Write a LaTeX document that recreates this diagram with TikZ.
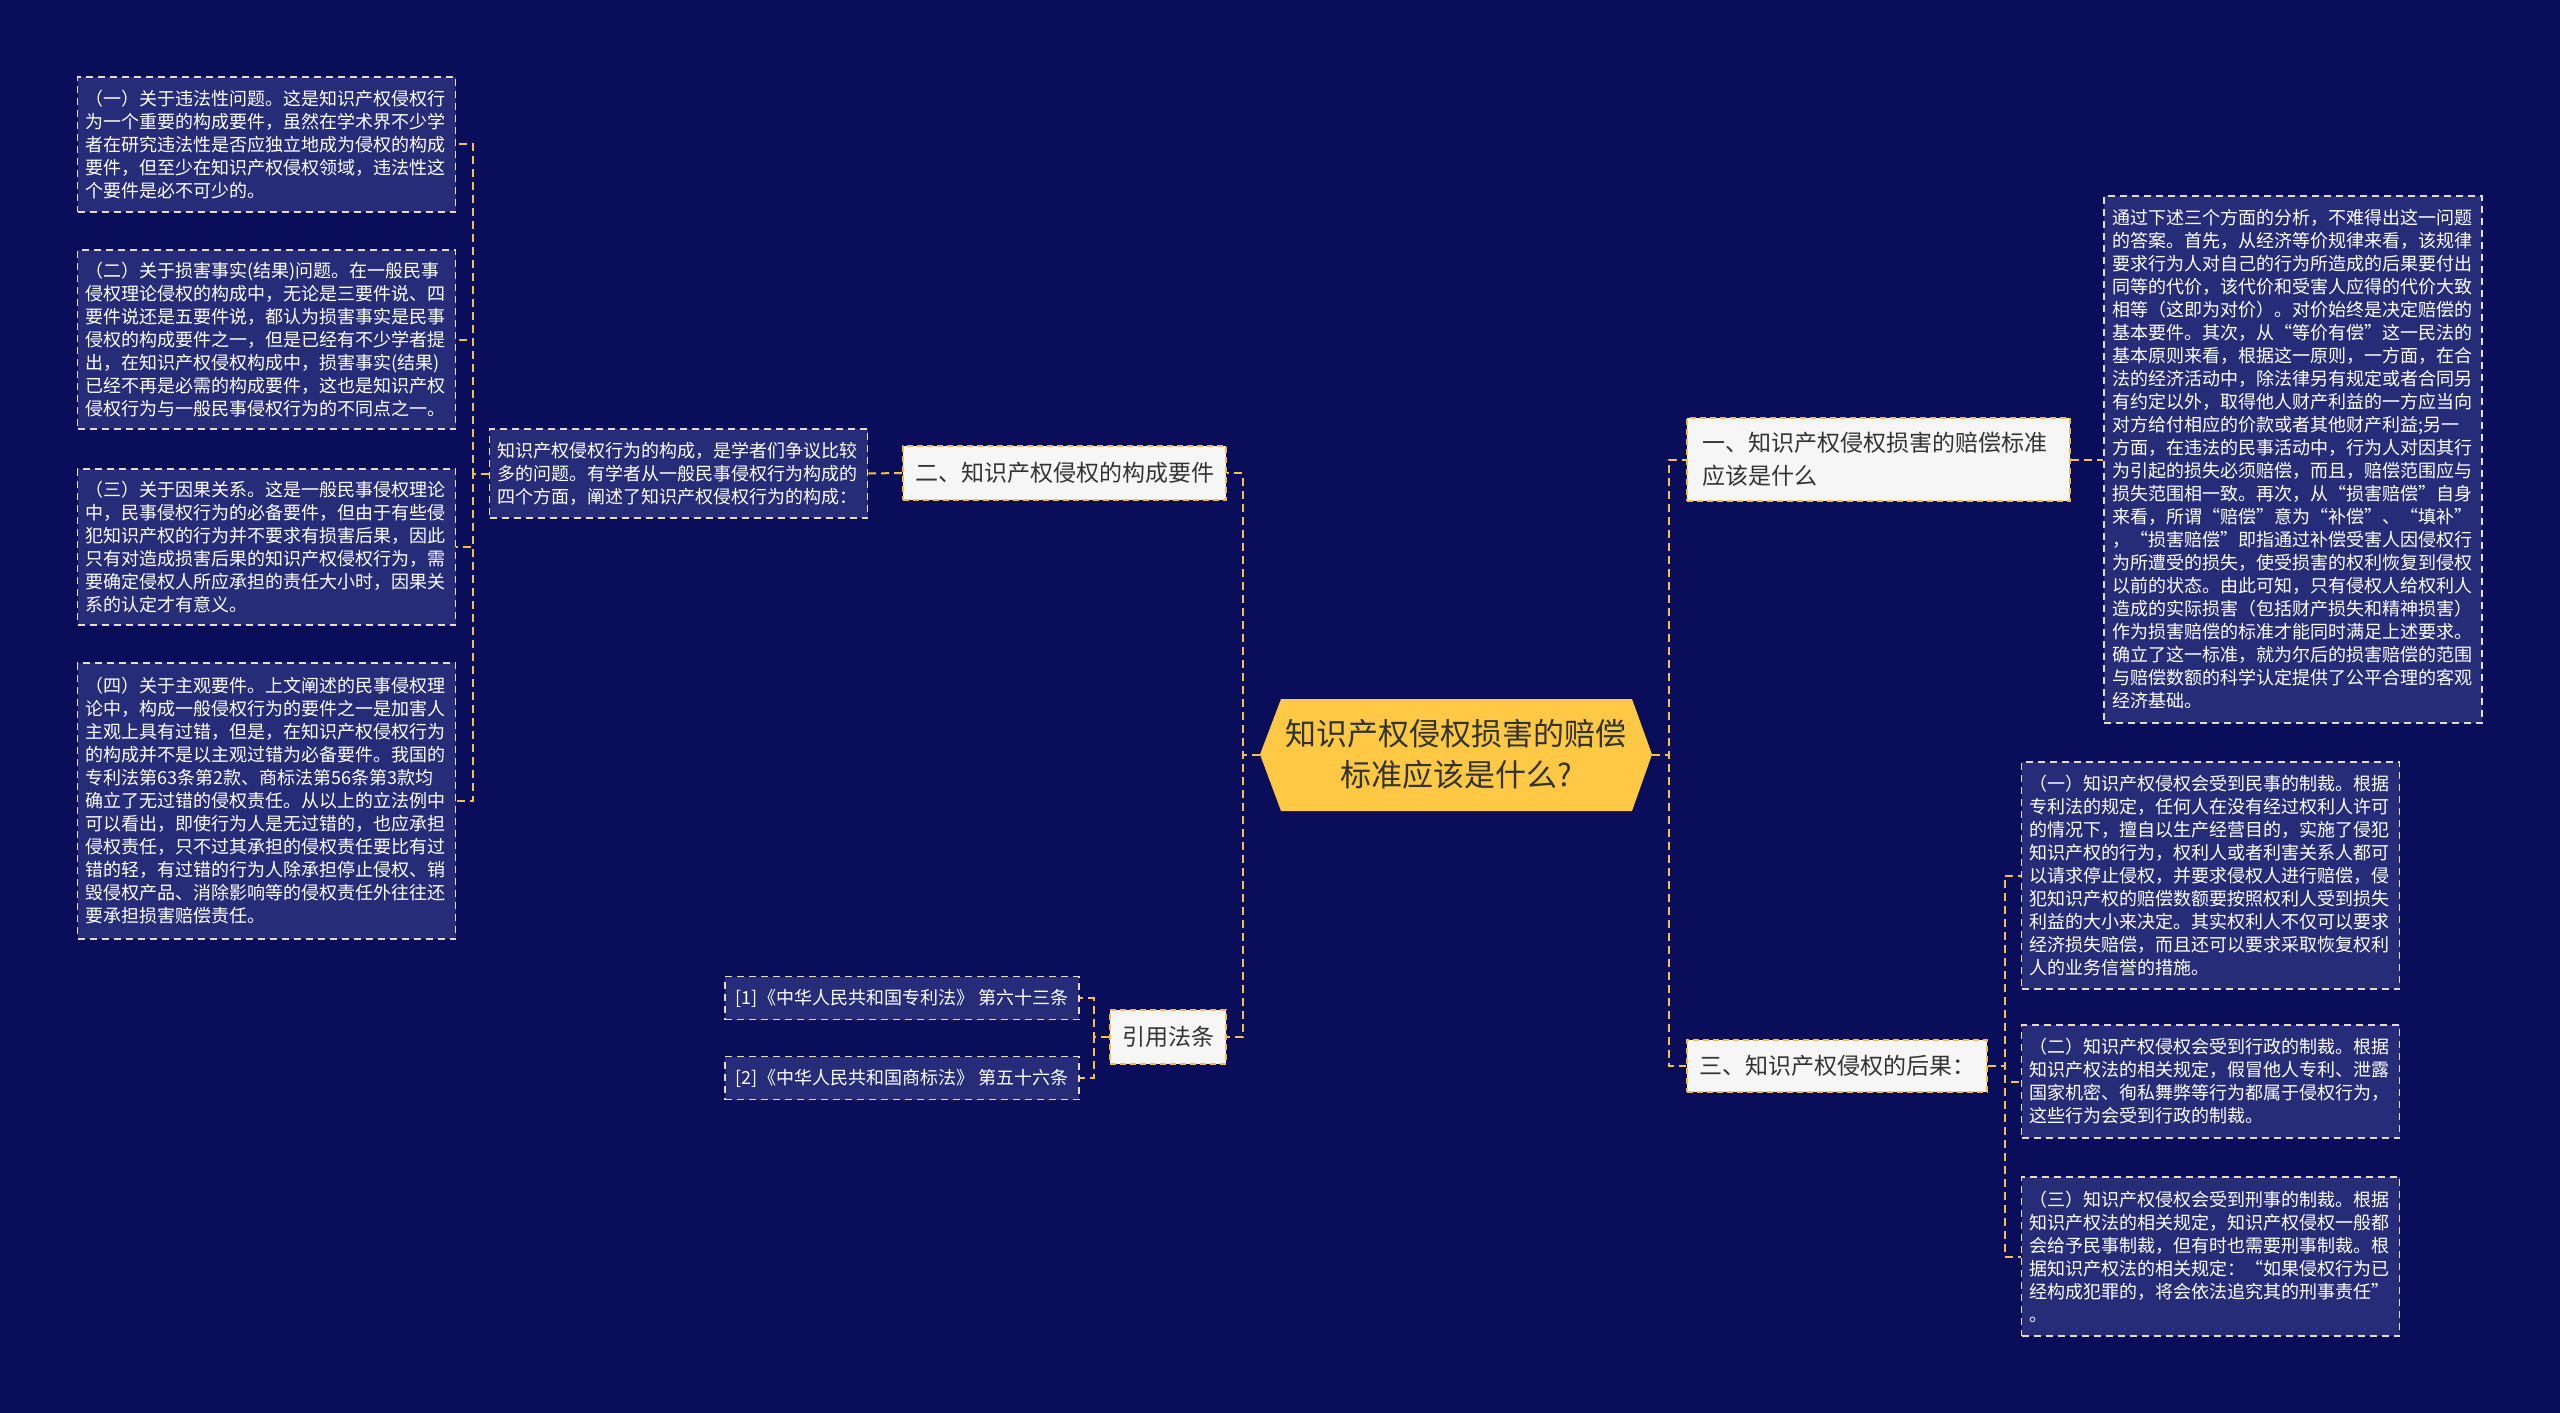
\documentclass[tikz,border=0pt]{standalone}
\usepackage{fontspec}
\setmainfont{Noto Sans CJK SC}
\setsansfont{Noto Sans CJK SC}
\definecolor{bgcol}{HTML}{0A0E5A}
\definecolor{leaffill}{HTML}{262C78}
\definecolor{leafline}{HTML}{E8DCC0}
\definecolor{branchfill}{HTML}{F6F6F6}
\definecolor{branchline}{HTML}{F2BC48}
\definecolor{conncol}{HTML}{F2C24E}
\definecolor{centerfill}{HTML}{FFC845}
\definecolor{textdark}{HTML}{333333}
\newcommand\myleaffont{\fontsize{9pt}{11.5pt}\selectfont}
\newcommand\mybranchfont{\fontsize{11.5pt}{16.5pt}\selectfont}
\newcommand\mycenterfont{\fontsize{15.5pt}{20.5pt}\selectfont}
\tikzset{
  leaf/.style={draw=leafline, line width=0.8pt, dash pattern=on 3.5pt off 2.5pt,
    fill=leaffill, text=white, font=\myleaffont, align=left,
    inner xsep=4pt, inner ysep=0pt, text width=181pt},
  cite/.style={draw=leafline, line width=0.8pt, dash pattern=on 3.5pt off 2.5pt,
    fill=leaffill, text=white, font=\myleaffont, inner sep=0pt},
  branch/.style={draw=branchline, line width=0.8pt, dash pattern=on 3pt off 2pt,
    fill=branchfill, text=textdark, font=\mybranchfont, inner sep=0pt},
  conn/.style={draw=conncol, line width=1pt, dash pattern=on 4pt off 2.5pt}
}
\begin{document}
\begin{tikzpicture}[x=0.5pt,y=-0.5pt]
\useasboundingbox (0,0) rectangle (2560,1413);
\fill[bgcol] (0,0) rectangle (2560,1413);

% centre
\fill[centerfill] (1260,754.5) -- (1281,699) -- (1632,699) -- (1652,754.5) -- (1632,811) -- (1281,811) -- cycle;
\node[minimum width=196pt, minimum height=56pt, inner sep=0pt, text=textdark, font=\mycenterfont, align=center] (C) at (1456,754.5) {知识产权侵权损害的赔偿\\标准应该是什么?};

% branches
\node[branch, minimum width=191.5pt, minimum height=41.5pt, text width=176pt, align=left] (B1) at (1878.5,459.5) {一、知识产权侵权损害的赔偿标准\\应该是什么};
\node[branch, minimum width=150pt, minimum height=26pt] (B3) at (1837,1066) {三、知识产权侵权的后果：};
\node[branch, minimum width=161.5pt, minimum height=27pt] (B2) at (1064.5,473) {二、知识产权侵权的构成要件};
\node[branch, minimum width=58pt, minimum height=27pt] (Y) at (1168,1037) {引用法条};

% left leaves
\node[leaf, minimum height=67.5pt] (L1) at (266.5,144.5) {（一）关于违法性问题。这是知识产权侵权行\\为一个重要的构成要件，虽然在学术界不少学\\者在研究违法性是否应独立地成为侵权的构成\\要件，但至少在知识产权侵权领域，违法性这\\个要件是必不可少的。};
\node[leaf, minimum height=89.5pt] (L2) at (266.5,339.5) {（二）关于损害事实(结果)问题。在一般民事\\侵权理论侵权的构成中，无论是三要件说、四\\要件说还是五要件说，都认为损害事实是民事\\侵权的构成要件之一，但是已经有不少学者提\\出，在知识产权侵权构成中，损害事实(结果)\\已经不再是必需的构成要件，这也是知识产权\\侵权行为与一般民事侵权行为的不同点之一。};
\node[leaf, minimum height=78pt] (L3) at (266.5,547) {（三）关于因果关系。这是一般民事侵权理论\\中，民事侵权行为的必备要件，但由于有些侵\\犯知识产权的行为并不要求有损害后果，因此\\只有对造成损害后果的知识产权侵权行为，需\\要确定侵权人所应承担的责任大小时，因果关\\系的认定才有意义。};
\node[leaf, minimum height=138pt] (L4) at (266.5,801) {（四）关于主观要件。上文阐述的民事侵权理\\论中，构成一般侵权行为的要件之一是加害人\\主观上具有过错，但是，在知识产权侵权行为\\的构成并不是以主观过错为必备要件。我国的\\专利法第63条第2款、商标法第56条第3款均\\确立了无过错的侵权责任。从以上的立法例中\\可以看出，即使行为人是无过错的，也应承担\\侵权责任，只不过其承担的侵权责任要比有过\\错的轻，有过错的行为人除承担停止侵权、销\\毁侵权产品、消除影响等的侵权责任外往往还\\要承担损害赔偿责任。};
\node[leaf, minimum height=44.5pt] (D) at (678.5,473.5) {知识产权侵权行为的构成，是学者们争议比较\\多的问题。有学者从一般民事侵权行为构成的\\四个方面，阐述了知识产权侵权行为的构成：};

% citations
\node[cite, minimum width=177pt, minimum height=21.5pt] (Q1) at (902,998) {[1]《中华人民共和国专利法》 第六十三条};
\node[cite, minimum width=177pt, minimum height=21.5pt] (Q2) at (902,1078) {[2]《中华人民共和国商标法》 第五十六条};

% right leaves
\node[leaf, minimum height=263.5pt] (R0) at (2293,459.5) {通过下述三个方面的分析，不难得出这一问题\\的答案。首先，从经济等价规律来看，该规律\\要求行为人对自己的行为所造成的后果要付出\\同等的代价，该代价和受害人应得的代价大致\\相等（这即为对价）。对价始终是决定赔偿的\\基本要件。其次，从“等价有偿”这一民法的\\基本原则来看，根据这一原则，一方面，在合\\法的经济活动中，除法律另有规定或者合同另\\有约定以外，取得他人财产利益的一方应当向\\对方给付相应的价款或者其他财产利益;另一\\方面，在违法的民事活动中，行为人对因其行\\为引起的损失必须赔偿，而且，赔偿范围应与\\损失范围相一致。再次，从“损害赔偿”自身\\来看，所谓“赔偿”意为“补偿”、“填补”\\，“损害赔偿”即指通过补偿受害人因侵权行\\为所遭受的损失，使受损害的权利恢复到侵权\\以前的状态。由此可知，只有侵权人给权利人\\造成的实际损害（包括财产损失和精神损害）\\作为损害赔偿的标准才能同时满足上述要求。\\确立了这一标准，就为尔后的损害赔偿的范围\\与赔偿数额的科学认定提供了公平合理的客观\\经济基础。};
\node[leaf, minimum height=113.5pt] (R1) at (2210.5,875.5) {（一）知识产权侵权会受到民事的制裁。根据\\专利法的规定，任何人在没有经过权利人许可\\的情况下，擅自以生产经营目的，实施了侵犯\\知识产权的行为，权利人或者利害关系人都可\\以请求停止侵权，并要求侵权人进行赔偿，侵\\犯知识产权的赔偿数额要按照权利人受到损失\\利益的大小来决定。其实权利人不仅可以要求\\经济损失赔偿，而且还可以要求采取恢复权利\\人的业务信誉的措施。};
\node[leaf, minimum height=56.5pt] (R2) at (2210.5,1081.5) {（二）知识产权侵权会受到行政的制裁。根据\\知识产权法的相关规定，假冒他人专利、泄露\\国家机密、徇私舞弊等行为都属于侵权行为，\\这些行为会受到行政的制裁。};
\node[leaf, minimum height=79.5pt] (R3) at (2210.5,1256.5) {（三）知识产权侵权会受到刑事的制裁。根据\\知识产权法的相关规定，知识产权侵权一般都\\会给予民事制裁，但有时也需要刑事制裁。根\\据知识产权法的相关规定：“如果侵权行为已\\经构成犯罪的，将会依法追究其的刑事责任”\\。};

% connectors
\draw[conn] (C.west) -- ++(-17,0) |- (B2.east);
\draw[conn] (C.west) -- ++(-17,0) |- (Y.east);
\draw[conn] (C.east) -- ++(17,0) |- (B1.west);
\draw[conn] (C.east) -- ++(17,0) |- (B3.west);
\draw[conn] (B1.east) -- (R0.west);
\draw[conn] (B3.east) -- ++(17,0) |- (R1.west);
\draw[conn] (B3.east) -- ++(17,0) |- (R2.west);
\draw[conn] (B3.east) -- ++(17,0) |- (R3.west);
\draw[conn] (B2.west) -- (D.east);
\draw[conn] (D.west) -- ++(-15.5,0) |- (L1.east);
\draw[conn] (D.west) -- ++(-15.5,0) |- (L2.east);
\draw[conn] (D.west) -- ++(-15.5,0) |- (L3.east);
\draw[conn] (D.west) -- ++(-15.5,0) |- (L4.east);
\draw[conn] (Y.west) -- ++(-15.5,0) |- (Q1.east);
\draw[conn] (Y.west) -- ++(-15.5,0) |- (Q2.east);
\end{tikzpicture}
\end{document}
